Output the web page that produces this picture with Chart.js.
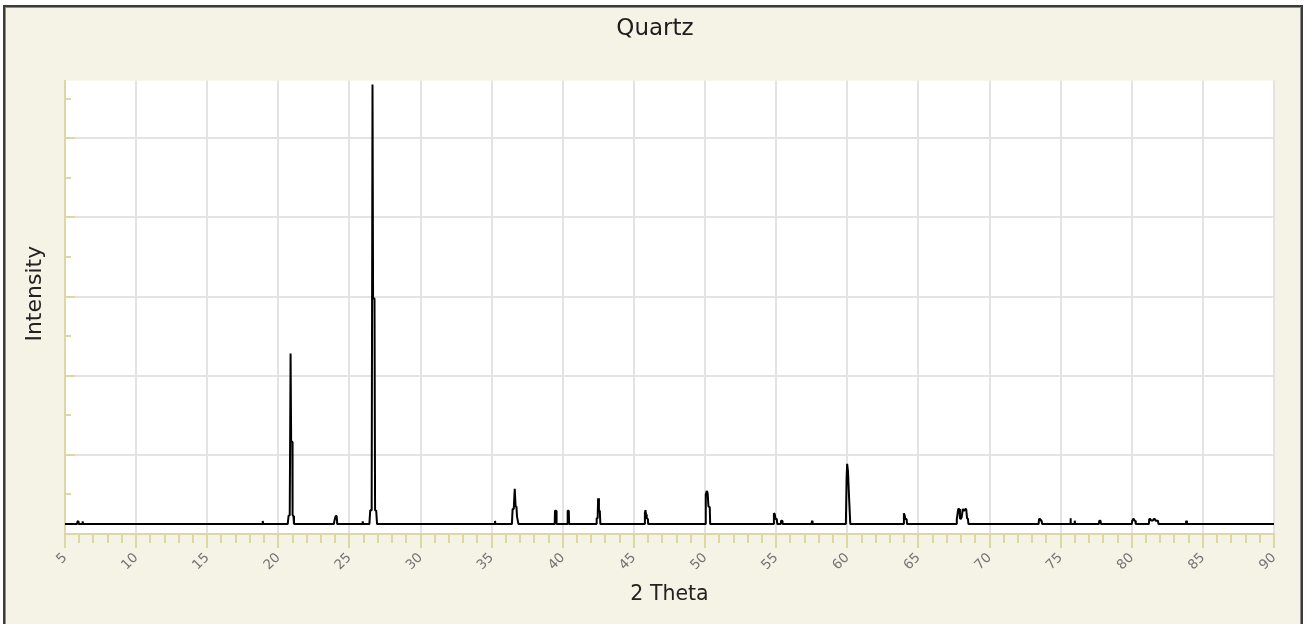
<!DOCTYPE html>
<html>
<head>
<meta charset="utf-8">
<title>Quartz</title>
<script src="https://cdn.jsdelivr.net/npm/chart.js@4/dist/chart.umd.min.js"></script>
<style>
  html, body { margin: 0; padding: 0; background: #ffffff; overflow: hidden; }
  #frame {
    position: absolute; left: 3px; top: 5px;
    width: 1300px; height: 700px; box-sizing: border-box;
    background: #f5f2e6;
    border: 2px solid #3b3b38;
    box-shadow: inset 1px 1px 0 #8d8c86, inset -1px 0 0 #8d8c86;
  }
  #chart { position: absolute; left: 0; top: 0; }
</style>
</head>
<body>
<div id="frame"></div>
<canvas id="chart" width="1307" height="624"></canvas>
<script>
// Quartz diffraction pattern: 2-theta (degrees) against intensity (counts)
const twoTheta = [
    5.00,
    5.84, 5.88, 5.93, 5.96, 6.20, 6.24, 6.28,
    18.86, 18.90, 18.94,
    20.66, 20.72, 20.80, 20.86, 20.90, 20.98, 21.00, 21.06, 21.10,
    23.90, 23.95, 24.03, 24.10, 24.14,
    25.89, 25.93, 25.97,
    26.40, 26.46, 26.56, 26.62, 26.66, 26.76, 26.80, 26.88, 26.94,
    35.19, 35.23, 35.27,
    36.42, 36.47, 36.55, 36.62, 36.68, 36.74, 36.78, 36.84, 36.88,
    39.43, 39.45, 39.54, 39.56,
    40.30, 40.32, 40.36, 40.42, 40.44,
    42.34, 42.38, 42.45, 42.48, 42.54, 42.60, 42.64,
    45.74, 45.77, 45.81, 45.85, 45.90, 45.98, 46.00,
    50.02, 50.05, 50.12, 50.18, 50.24, 50.33, 50.36,
    54.82, 54.84, 54.90, 54.95, 55.04, 55.08,
    55.32, 55.35, 55.42, 55.45,
    57.48, 57.52, 57.56,
    59.90, 59.95, 59.99, 60.05, 60.10, 60.12, 60.18, 60.21,
    63.95, 63.98, 64.03, 64.08, 64.17, 64.20,
    67.66, 67.70, 67.80, 67.88, 67.92, 67.98, 68.04, 68.12, 68.20, 68.30, 68.36, 68.42, 68.48, 68.52,
    73.45, 73.48, 73.56, 73.60, 73.66, 73.70,
    75.66, 75.69, 75.72,
    75.96, 75.99, 76.02,
    77.68, 77.72, 77.80, 77.84,
    80.00, 80.04, 80.08, 80.14, 80.20, 80.25, 80.28,
    81.20, 81.23, 81.30, 81.36, 81.48, 81.55, 81.62, 81.68, 81.84, 81.88,
    83.80, 83.84, 83.88,
    90.00,
];

const intensity = [
    125,
    125, 160, 160, 125, 125, 160, 125,
    125, 165, 125,
    125, 232, 236, 2280, 1170, 1165, 240, 228, 125,
    125, 175, 228, 228, 125,
    125, 160, 125,
    125, 300, 300, 5680, 2975, 2975, 300, 295, 125,
    125, 165, 125,
    125, 316, 316, 570, 346, 346, 220, 220, 125,
    125, 295, 295, 125,
    125, 255, 295, 295, 125,
    125, 200, 200, 452, 294, 294, 125,
    125, 270, 300, 250, 200, 190, 125,
    125, 500, 544, 520, 346, 340, 125,
    125, 262, 250, 190, 190, 125,
    125, 168, 168, 125,
    125, 168, 125,
    125, 700, 886, 789, 789, 481, 481, 125,
    125, 262, 240, 190, 190, 125,
    125, 190, 316, 316, 200, 190, 210, 316, 290, 316, 316, 200, 190, 125,
    125, 190, 190, 168, 168, 125,
    125, 200, 125,
    125, 168, 125,
    125, 168, 168, 125,
    125, 175, 190, 190, 168, 168, 125,
    125, 190, 190, 170, 170, 190, 190, 168, 168, 125,
    125, 168, 125,
    125,
];

// axis ranges and tick positions
const X_MIN = 5, X_MAX = 90, X_STEP = 5;
const Y_MIN = 0, Y_MAX = 5730;
const yMajorTicks = [0, 1000, 2000, 3000, 4000, 5000];
const yMinorTicks = [500, 1500, 2500, 3500, 4500, 5500];
const Y_TITLE = "Intensity";

const AXIS_COLOR = "#ddd7a4";
const GRID_COLOR = "#e3e3e3";
const FONT = "'DejaVu Sans', sans-serif";

// white plot background, the y title, and the small tick marks the axes don't draw themselves
const plotDecor = {
    id: "plotDecor",
    beforeDraw(chart) {
        const { ctx, chartArea: a } = chart;
        ctx.save();
        ctx.fillStyle = "#ffffff";
        ctx.fillRect(a.left, a.top, a.right - a.left, a.bottom - a.top);
        ctx.restore();
    },
    afterDraw(chart) {
        const { ctx, chartArea: a, scales: { x, y } } = chart;
        ctx.save();
        ctx.strokeStyle = AXIS_COLOR;
        ctx.lineWidth = 2;
        ctx.beginPath();
        // minor ticks on the 2-theta axis, every degree
        for (let v = X_MIN; v <= X_MAX; v++) {
            if (v % X_STEP === 0) continue;
            const px = Math.round(x.getPixelForValue(v));
            ctx.moveTo(px, a.bottom);
            ctx.lineTo(px, a.bottom + 9);
        }
        // intensity ticks point into the plot
        const lx = Math.round(a.left);
        yMajorTicks.slice(1).forEach(v => {
            const py = Math.round(y.getPixelForValue(v));
            ctx.moveTo(lx, py);
            ctx.lineTo(lx + 10, py);
        });
        yMinorTicks.forEach(v => {
            const py = Math.round(y.getPixelForValue(v));
            ctx.moveTo(lx, py);
            ctx.lineTo(lx + 6, py);
        });
        ctx.stroke();

        // y axis title, sits a little above the middle of the plot
        ctx.translate(35, a.top + (a.bottom - a.top) * 0.47);
        ctx.rotate(-Math.PI / 2);
        ctx.fillStyle = "#222222";
        ctx.font = "22px " + FONT;
        ctx.textAlign = "center";
        ctx.textBaseline = "middle";
        ctx.fillText(Y_TITLE, 0, 0);
        ctx.restore();
    },
};

new Chart(document.getElementById("chart"), {
    type: "line",
    data: {
        datasets: [{
            label: "Quartz",
            data: twoTheta.map((t, i) => ({ x: t, y: intensity[i] })),
            xAxisID: "x",
            yAxisID: "y",
            borderColor: "#000000",
            borderWidth: 2,
            borderJoinStyle: "bevel",
            pointRadius: 0,
            tension: 0,
            fill: false,
        }],
    },
    options: {
        responsive: false,
        animation: false,
        devicePixelRatio: 1,
        layout: { padding: { left: 3, right: 0, top: 0, bottom: 0 } },
        plugins: {
            legend: { display: false },
            tooltip: { enabled: false },
            title: {
                display: true,
                text: "Quartz",
                color: "#1e1e1e",
                font: { family: FONT, size: 23, weight: "normal" },
                padding: { top: 15, bottom: 38 },
            },
        },
        scales: {
            x: {
                type: "linear",
                min: X_MIN,
                max: X_MAX,
                afterFit: s => { s.height = 90; },
                ticks: {
                    stepSize: X_STEP,
                    autoSkip: false,
                    minRotation: 45,
                    maxRotation: 45,
                    color: "#737373",
                    padding: 2,
                    font: { family: FONT, size: 13.5 },
                },
                grid: {
                    color: c => (c.tick && c.tick.value === X_MIN ? "rgba(0,0,0,0)" : GRID_COLOR),
                    lineWidth: 2,
                    drawTicks: true,
                    tickLength: 14,
                    tickColor: AXIS_COLOR,
                    tickWidth: 2,
                },
                border: { display: true, color: AXIS_COLOR, width: 2 },
                title: {
                    display: true,
                    text: "2 Theta",
                    color: "#222222",
                    font: { family: FONT, size: 20.5 },
                    padding: { top: 0, bottom: 17 },
                },
            },
            y: {
                type: "linear",
                min: Y_MIN,
                max: Y_MAX,
                afterBuildTicks: s => { s.ticks = yMajorTicks.map(v => ({ value: v })); },
                afterFit: s => { s.width = 62; },
                ticks: { display: false },
                grid: {
                    color: c => (c.tick && c.tick.value === Y_MIN ? "rgba(0,0,0,0)" : GRID_COLOR),
                    lineWidth: 2,
                    drawTicks: false,
                },
                border: { display: true, color: AXIS_COLOR, width: 2 },
            },
            // empty right-hand strip so the plot stops short of the frame
            yRight: {
                type: "linear",
                position: "right",
                min: Y_MIN,
                max: Y_MAX,
                afterFit: s => { s.width = 33; },
                ticks: { display: false },
                grid: { display: false, drawTicks: false },
                border: { display: false },
            },
        },
    },
    plugins: [plotDecor],
});
</script>
</body>
</html>
